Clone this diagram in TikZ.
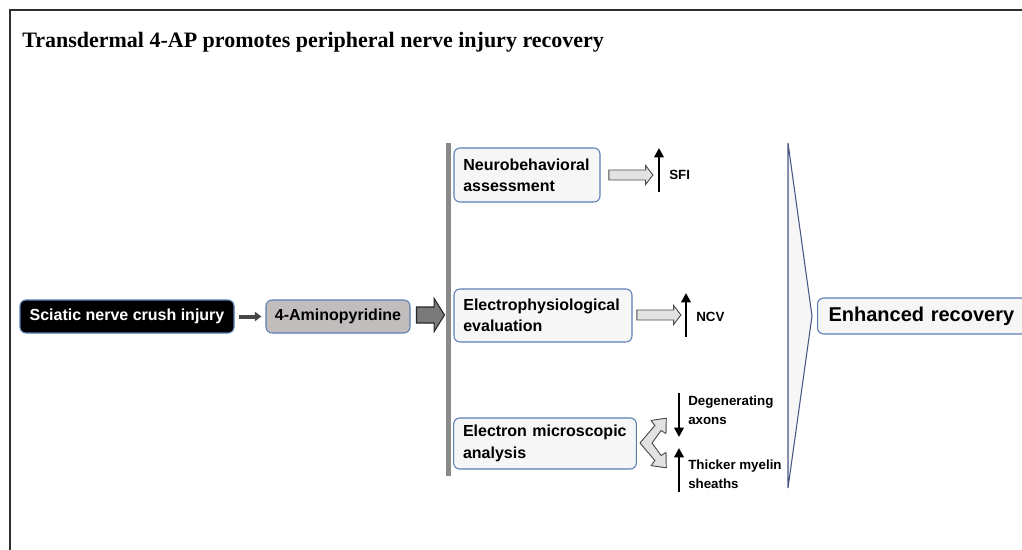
\documentclass[tikz,border=0pt]{standalone}
\usepackage{fontspec}
\setmainfont{Liberation Serif}
\setsansfont{Liberation Sans}
\usetikzlibrary{positioning, arrows.meta, shapes.arrows}

\definecolor{boxline}{HTML}{5B7DB5}
\definecolor{boxfill}{HTML}{F6F6F6}
\definecolor{drugfill}{HTML}{C1BDBD}
\definecolor{framecol}{HTML}{2E2E2E}
\definecolor{barcol}{HTML}{8A8A8A}
\definecolor{hollowfill}{HTML}{E2E2E2}
\definecolor{funnelline}{HTML}{4A5785}

\begin{document}
\begin{tikzpicture}[
        x=0.75pt, y=-0.75pt,
        >=Stealth,
        box/.style={draw=boxline, line width=0.8pt, rounded corners=4.5pt, fill=boxfill,
            font=\sffamily\bfseries\fontsize{12}{16}\selectfont, inner ysep=0pt},
        twoline/.style={box, align=left, inner xsep=7pt},
        lbl/.style={font=\sffamily\bfseries\fontsize{10}{14}\selectfont, align=left, anchor=west, inner sep=0pt},
        hollowarrow/.style={single arrow, draw=black!70, fill=hollowfill, line width=0.7pt,
            single arrow head extend=3.4pt, single arrow tip angle=105, inner xsep=0pt, inner ysep=3.4pt},
        darkarrow/.style={single arrow, draw=black!85, fill=black!52, line width=0.8pt,
            single arrow head extend=6.4pt, single arrow tip angle=116, inner xsep=0pt, inner ysep=5.6pt},
        trend/.style={line width=2.2pt, -{Triangle[length=7pt, width=7pt]}},
        frame/.style={draw=framecol, line width=1.5pt}
    ]
    \useasboundingbox (0,0) rectangle (1022,550);
    \clip (0,0) rectangle (1022,550);

    % outer frame and title
    \coordinate (fb) at (10,552);
    \coordinate (fc) at (10,10);
    \coordinate (fr) at (1024,10);
    \draw[frame] (fb) -- (fc) -- (fr);
    \node[anchor=base west, inner sep=0pt, font=\bfseries\fontsize{16.5}{18}\selectfont] (title) at (22,47)
        {Transdermal 4-AP promotes peripheral nerve injury recovery};

    % injury and treatment
    \node[box, fill=black, text=white, minimum width=160.5pt, minimum height=24.75pt] (sci) at (127,316.5) {Sciatic nerve crush injury};
    \node[box, fill=drugfill, minimum width=108pt, minimum height=24.75pt] (amp) at (338,316.5) {4-Aminopyridine};
    \draw[draw=black!72, line width=3pt, -{Triangle[length=5pt, width=7pt]}, shorten <=3pt, shorten >=3pt] (sci) -- (amp);
    \node[darkarrow, minimum height=21pt] (toassay) at (428,315) {};

    % bar in front of the assays
    \coordinate (bartop) at (448.5,143);
    \coordinate (barbot) at (448.5,476);
    \draw[barcol, line width=3.75pt] (bartop) -- (barbot);

    % assays
    \node[twoline, text width=95.5pt, minimum height=40.5pt] (neuro) at (527,175) {Neurobehavioral\\assessment};
    \node[twoline, text width=119.5pt, minimum height=39.75pt] (elec) at (543,315.5) {Electrophysiological\\evaluation};
    \node[twoline, text width=123pt, minimum height=38.25pt] (em) at (545,443.5) {Electron microscopic\\analysis};

    \node[hollowarrow, minimum height=33pt] (neuroarr) at (629,175) {};
    \node[hollowarrow, minimum height=33pt] (elecarr) at (657,315) {};

    % outcomes
    \coordinate (sfibot) at (659,192);
    \coordinate (sfitop) at (659,148);
    \draw[trend] (sfibot) -- (sfitop);
    \node[lbl] (sfi) at (669,175) {SFI};

    \coordinate (ncvbot) at (686,337);
    \coordinate (ncvtop) at (686,293);
    \draw[trend] (ncvbot) -- (ncvtop);
    \node[lbl] (ncv) at (696,317) {NCV};

    \draw[draw=black!70, fill=hollowfill, line width=0.7pt, line join=round]
        (640,443) -- (654.9,425.5) -- (651,420.4) -- (666.3,418.2) -- (666,433.6) -- (661.1,430.5)
        -- (652,443) -- (661.1,455.5) -- (666,452.4) -- (666.3,467.8) -- (651,465.6) -- (654.9,460.5) -- cycle;

    \coordinate (degtop) at (679,393);
    \coordinate (degbot) at (679,437);
    \draw[trend] (degtop) -- (degbot);
    \node[lbl] (deg) at (688,410) {Degenerating\\axons};

    \coordinate (myebot) at (679,492);
    \coordinate (myetop) at (679,448);
    \draw[trend] (myebot) -- (myetop);
    \node[lbl] (mye) at (688,474) {Thicker myelin\\sheaths};

    % funnel to the result
    \coordinate (funtop) at (788,143);
    \coordinate (funtip) at (812,316);
    \coordinate (funbot) at (788,488);
    \draw[draw=funnelline, fill=boxfill, line width=0.8pt] (funtop) -- (funtip) -- (funbot) -- cycle;

    \node[box, anchor=west, font=\sffamily\bfseries\fontsize{15}{18}\selectfont, text width=150pt, align=left,
        inner xsep=8.25pt, minimum height=27pt] (enh) at (817,316) {Enhanced recovery};
\end{tikzpicture}
\end{document}
